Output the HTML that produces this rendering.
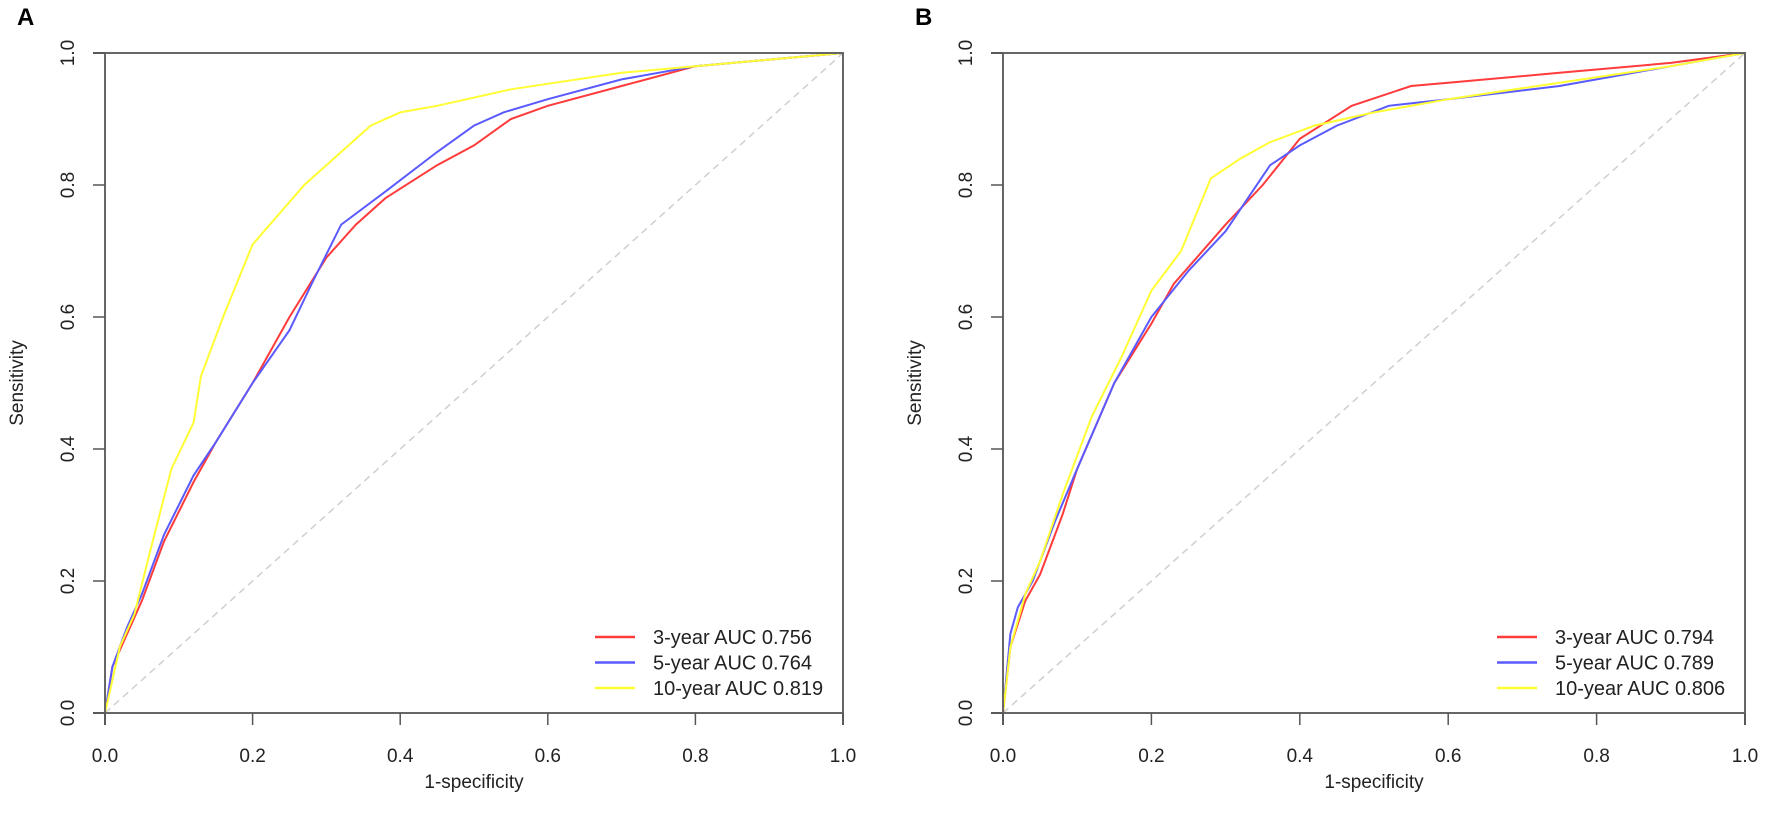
<!DOCTYPE html>
<html><head><meta charset="utf-8"><style>
html,body{margin:0;padding:0;background:#fff;}
svg{display:block;font-family:"Liberation Sans",Arial,sans-serif;}
</style></head><body>
<svg id="chart" width="1772" height="828" viewBox="0 0 1772 828" xmlns="http://www.w3.org/2000/svg"></svg>
<script>
const ticks = [0, 0.2, 0.4, 0.6, 0.8, 1.0];
const tickLabels = ["0.0", "0.2", "0.4", "0.6", "0.8", "1.0"];
const seriesNames = ["3-year", "5-year", "10-year"];
const seriesColors = ["#ff3b3b", "#5a5aff", "#ffff33"];
const aucA = ["0.756", "0.764", "0.819"];
const aucB = ["0.794", "0.789", "0.806"];
const redAx = [0,0.01,0.03,0.05,0.08,0.12,0.15,0.2,0.25,0.3,0.34,0.38,0.45,0.5,0.55,0.6,0.7,0.8,0.9,1];
const redAy = [0,0.07,0.12,0.17,0.26,0.35,0.41,0.5,0.6,0.69,0.74,0.78,0.83,0.86,0.9,0.92,0.95,0.98,0.99,1];
const blueAx = [0,0.01,0.03,0.05,0.08,0.12,0.15,0.2,0.25,0.28,0.32,0.38,0.45,0.5,0.54,0.6,0.7,0.8,1];
const blueAy = [0,0.07,0.13,0.18,0.27,0.36,0.41,0.5,0.58,0.65,0.74,0.79,0.85,0.89,0.91,0.93,0.96,0.98,1];
const yellowAx = [0,0.02,0.04,0.06,0.09,0.12,0.13,0.16,0.2,0.27,0.33,0.36,0.4,0.45,0.55,0.7,0.8,0.9,1];
const yellowAy = [0,0.1,0.15,0.24,0.37,0.44,0.51,0.6,0.71,0.8,0.86,0.89,0.91,0.92,0.945,0.97,0.98,0.99,1];
const redBx = [0,0.01,0.03,0.05,0.08,0.1,0.15,0.2,0.23,0.3,0.35,0.4,0.47,0.55,0.6,0.75,0.9,1];
const redBy = [0,0.1,0.17,0.21,0.3,0.37,0.5,0.59,0.65,0.74,0.8,0.87,0.92,0.95,0.955,0.97,0.985,1];
const blueBx = [0,0.01,0.02,0.04,0.07,0.1,0.15,0.2,0.25,0.3,0.36,0.4,0.45,0.52,0.6,0.75,0.9,1];
const blueBy = [0,0.12,0.16,0.2,0.29,0.37,0.5,0.6,0.67,0.73,0.83,0.86,0.89,0.92,0.93,0.95,0.98,1];
const yellowBx = [0,0.01,0.03,0.05,0.08,0.12,0.16,0.2,0.24,0.28,0.32,0.36,0.42,0.5,0.6,0.75,0.9,1];
const yellowBy = [0,0.1,0.18,0.23,0.33,0.45,0.54,0.64,0.7,0.81,0.84,0.865,0.89,0.91,0.93,0.955,0.98,1];

const NS = "http://www.w3.org/2000/svg";
const svg = document.getElementById("chart");
function mk(tag, attrs, parent, text) {
  const e = document.createElementNS(NS, tag);
  for (const k in attrs) e.setAttribute(k, attrs[k]);
  if (text !== undefined) e.textContent = text;
  (parent || svg).appendChild(e);
  return e;
}
const Y0 = 713, Y1 = 53;
function panel(key, letter, X0, X1, series, aucs, legX) {
  const g = mk("g", {});
  
  
  const sx = v => X0 + v * (X1 - X0);
  const sy = v => Y0 - v * (Y0 - Y1);
  const lab = mk("text", {x: X0 - 88, y: 25, "font-size": 24, "font-weight": "bold"}, g, letter);
  
  
  // diagonal
  const d = mk("line", {x1: sx(0), y1: sy(0), x2: sx(1), y2: sy(1), stroke: "#cfcfcf", "stroke-width": 1.5, "stroke-dasharray": "7,5"}, g);
  
  
  // series
  series.forEach((s, i) => {
    const pts = s[0].map((x, j) => sx(x).toFixed(1) + "," + sy(s[1][j]).toFixed(1)).join(" ");
    const p = mk("polyline", {points: pts, fill: "none", stroke: seriesColors[i], "stroke-width": 2}, g);
    
    
  });
  // frame
  const fr = mk("path", {d: `M${X0-12},${Y1}H${X1}V${Y0+12}M${X0},${Y1}V${Y0+12}M${X0-12},${Y0}H${X1}`, fill: "none", stroke: "#666", "stroke-width": 2}, g);
  
  
  ticks.forEach((t, i) => {
    const xt = mk("line", {x1: sx(t), y1: Y0, x2: sx(t), y2: Y0 + 12, stroke: "#555", "stroke-width": 1.5}, g);
    
    
    const xl = mk("text", {x: sx(t), y: Y0 + 49, "font-size": 19, "text-anchor": "middle", fill: "#222"}, g, tickLabels[i]);
    
    
    const yt = mk("line", {x1: X0 - 12, y1: sy(t), x2: X0, y2: sy(t), stroke: "#555", "stroke-width": 1.5}, g);
    
    
    const yl = mk("text", {x: 0, y: 0, "font-size": 19, "text-anchor": "middle", fill: "#222", transform: `translate(${X0 - 31},${sy(t)}) rotate(-90)`}, g, tickLabels[i]);
    
    
  });
  const xa = mk("text", {x: (X0 + X1) / 2, y: 788, "font-size": 19, "text-anchor": "middle", fill: "#222"}, g, "1-specificity");
  
  
  const ya = mk("text", {x: 0, y: 0, "font-size": 19, "text-anchor": "middle", fill: "#222", transform: `translate(${X0 - 82},${(Y0 + Y1) / 2}) rotate(-90)`}, g, "Sensitivity");
  
  
  // legend
  aucs.forEach((a, i) => {
    const yy = 637 + i * 25.5;
    const ll = mk("line", {x1: legX, y1: yy, x2: legX + 40, y2: yy, stroke: seriesColors[i], "stroke-width": 2.5}, g);
    
    
    const lt = mk("text", {x: legX + 58, y: yy + 7, "font-size": 20, fill: "#222"}, g, seriesNames[i] + " AUC " + a);
    
    
  });
}
panel("a", "A", 105, 843, [[redAx, redAy], [blueAx, blueAy], [yellowAx, yellowAy]], aucA, 595);
panel("b", "B", 1003, 1745, [[redBx, redBy], [blueBx, blueBy], [yellowBx, yellowBy]], aucB, 1497);
</script>
</body></html>
